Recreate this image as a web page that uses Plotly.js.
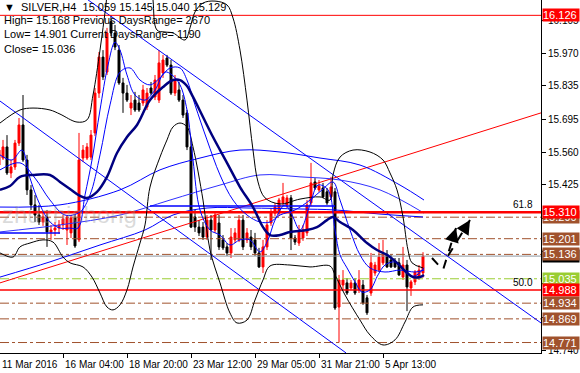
<!DOCTYPE html>
<html><head><meta charset="utf-8">
<script src="https://cdn.plot.ly/plotly-3.0.1.min.js"></script>
<style>html,body{margin:0;padding:0;background:#fff}#chart{width:580px;height:373px}</style>
</head><body><div id="chart"></div>
<script>
// ---- candles (SILVER H4), bar index 0..106 ----
const openP = [15.506,15.535,15.581,15.473,15.498,15.597,15.672,15.527,15.403,15.341,
15.299,15.270,15.291,15.229,15.237,15.245,15.258,15.237,15.225,15.287,
15.196,15.535,15.535,15.539,15.639,15.804,15.953,15.891,16.100,16.053,
15.982,15.846,15.804,15.742,15.775,15.763,15.763,15.746,15.825,15.788,
15.775,15.887,15.949,15.920,15.804,15.817,15.775,15.722,15.581,15.291,
15.249,15.249,15.208,15.278,15.237,15.266,15.196,15.167,15.142,15.196,
15.196,15.278,15.196,15.208,15.196,15.142,15.084,15.167,15.266,15.307,
15.307,15.349,15.341,15.370,15.204,15.183,15.204,15.225,15.349,15.436,
15.403,15.411,15.395,15.374,15.395,14.918,15.009,15.018,14.997,15.018,
14.989,15.009,14.956,14.976,15.059,15.071,15.101,15.134,15.113,15.105,
15.101,15.042,15.092,14.997,15.022,15.042,15.059];
const highP = [15.610,15.610,15.630,15.527,15.610,15.701,15.796,15.548,15.423,15.382,
15.341,15.312,15.320,15.258,15.270,15.278,15.299,15.299,15.299,15.303,
15.639,15.589,15.597,15.651,15.825,15.974,15.982,16.074,16.126,16.086,
16.003,15.867,15.838,15.796,15.809,15.796,15.838,15.825,15.850,15.879,
15.982,15.962,15.962,15.941,15.879,15.850,15.796,15.734,15.610,15.320,
15.278,15.270,15.299,15.299,15.312,15.299,15.216,15.183,15.245,15.245,
15.299,15.299,15.245,15.237,15.225,15.163,15.196,15.278,15.328,15.349,
15.370,15.432,15.382,15.382,15.216,15.258,15.258,15.361,15.515,15.452,
15.444,15.432,15.411,15.457,15.411,15.051,15.071,15.038,15.030,15.038,
15.071,15.030,14.968,15.142,15.105,15.183,15.196,15.154,15.134,15.121,
15.121,15.167,15.113,15.030,15.071,15.092,15.145];
const lowP = [15.494,15.527,15.465,15.452,15.486,15.585,15.519,15.382,15.320,15.270,
15.258,15.254,15.167,15.196,15.212,15.221,15.237,15.175,15.204,15.163,
15.187,15.519,15.527,15.527,15.626,15.784,15.858,15.879,16.040,15.982,
15.838,15.722,15.767,15.713,15.726,15.726,15.751,15.734,15.796,15.775,
15.763,15.867,15.912,15.796,15.792,15.767,15.701,15.568,15.245,15.229,
15.212,15.196,15.196,15.113,15.225,15.154,15.154,15.130,15.121,15.183,
15.187,15.154,15.183,15.154,15.130,15.080,15.059,15.154,15.254,15.295,
15.295,15.336,15.328,15.154,15.175,15.171,15.192,15.212,15.336,15.403,
15.395,15.370,15.341,15.361,14.906,14.771,14.989,14.968,14.989,14.968,
14.976,14.927,14.885,14.964,15.047,15.063,15.092,15.080,15.080,15.080,
15.047,15.030,14.901,14.964,15.009,15.030,15.040];
const closeP = [15.568,15.581,15.473,15.498,15.597,15.672,15.527,15.403,15.341,15.299,
15.270,15.291,15.229,15.237,15.245,15.258,15.283,15.291,15.287,15.171,
15.527,15.568,15.581,15.630,15.804,15.953,15.871,16.053,16.053,15.995,
15.846,15.804,15.775,15.763,15.734,15.734,15.817,15.804,15.804,15.858,
15.929,15.941,15.920,15.804,15.858,15.775,15.713,15.581,15.249,15.249,
15.225,15.208,15.278,15.237,15.299,15.167,15.163,15.142,15.208,15.225,
15.278,15.167,15.225,15.167,15.142,15.084,15.167,15.258,15.307,15.332,
15.361,15.374,15.370,15.204,15.187,15.229,15.237,15.341,15.432,15.411,
15.419,15.374,15.349,15.415,14.914,15.030,15.030,14.976,15.018,14.976,
15.030,14.935,14.894,15.101,15.092,15.125,15.134,15.084,15.084,15.084,
15.051,15.092,15.001,15.022,15.063,15.071,15.129];

// ---- x axis labels (bar index where each date label sits) ----
const tickBars = [0.25,16,32,48,64,80,96];
const tickLabels = ["11 Mar 2016","16 Mar 04:00","18 Mar 20:00","23 Mar 12:00","29 Mar 05:00","31 Mar 21:00","5 Apr 13:00"];
const priceTicks = [16.105,15.970,15.835,15.695,15.560,15.425,15.285,15.150,15.015,14.875,14.740];
const priceTickText = ["16.105","15.970","15.835","15.695","15.560","15.425","","","","","14.740"];

// ---- indicator lines (bar index, price) ----
const bbUpX = [0.25,5.25,8.5,12.75,15.25,19.5,22,23.5,25.25,26.75,28.25,37.75,38.5,39.5,41.5,43.5,46.5,47.75,49,51,54,57,58.5,60.25,62,63.5,64.75,66.5,70.25,75.25,80.25,82.75,83.5,85.25,88.5,92.75,96,97.75,99.5,101,102.25,103.25,106];
const bbUpY = [15.680,15.734,15.742,15.734,15.717,15.684,15.693,15.796,15.982,16.169,16.355,16.355,16.19,16.065,16.057,16.053,16.024,16.074,16.140,16.177,16.185,16.169,16.115,15.982,15.775,15.568,15.436,15.370,15.345,15.365,15.374,15.361,15.465,15.539,15.568,15.560,15.527,15.473,15.403,15.291,15.154,15.101,15.080];
const bbLoX = [0.25,3.5,5.25,7.75,11,13.5,16,17.75,21,23.25,25.25,27,28.5,30.25,32,33.5,35.25,36.5,37.75,40.25,42,43.5,45.25,47,48.5,51,52.75,55.25,57.75,59.5,62,64,66,67.75,72.75,77.75,82.75,84,86.5,90.25,92.75,96,99,101.5,103.5,106];
const bbLoY = [15.142,15.125,15.167,15.183,15.196,15.187,15.125,15.101,15.084,15.042,14.976,14.918,14.906,14.927,14.989,15.084,15.183,15.258,15.415,15.539,15.610,15.664,15.680,15.664,15.581,15.361,15.154,15.018,14.893,14.852,14.864,14.947,15.030,15.088,15.092,15.084,15.088,15.051,14.968,14.864,14.802,14.761,14.782,14.856,14.918,14.927];
const maThickX = [0.25,2.75,5.25,8.5,12.75,15.25,17.75,20.25,22,24.5,27,29.5,32,34.5,37.75,41,43.5,45.25,47,48.5,51,53.5,57,60.25,63.5,66,67.75,70.25,72.75,77,79.5,82,83.5,85.25,88.5,92,94.5,97,99.5,102,103.5,105.25,106.25];
const maThickY = [15.403,15.419,15.457,15.465,15.465,15.436,15.407,15.378,15.370,15.395,15.457,15.556,15.622,15.672,15.775,15.829,15.858,15.858,15.833,15.788,15.705,15.622,15.515,15.415,15.332,15.249,15.216,15.216,15.229,15.237,15.249,15.278,15.291,15.270,15.237,15.183,15.154,15.134,15.101,15.059,15.042,15.042,15.051];
const maFastX = [0.25,3.25,5.75,7.75,10.25,12.75,15.25,17.75,19.75,21.5,23.25,25.25,27.25,29,30.25,32,34,36.5,39,41.5,43.25,45.25,47,48.5,50.25,52.75,55.25,57.75,60.25,62.75,65.25,67.25,69,71.5,73.25,75.25,77.75,79.75,82.25,84,85.25,87,89,90.75,92.75,94.75,96.5,99,101,102.75,104.5,106.25];
const maFastY = [15.548,15.527,15.568,15.452,15.341,15.270,15.245,15.245,15.245,15.382,15.527,15.734,15.920,16.015,15.982,15.879,15.796,15.775,15.817,15.891,15.879,15.838,15.734,15.527,15.320,15.237,15.216,15.175,15.196,15.196,15.146,15.196,15.278,15.341,15.299,15.237,15.341,15.423,15.403,15.237,15.134,15.080,15.022,14.980,14.989,15.051,15.092,15.105,15.080,15.047,15.051,15.080];
const maMidX = [0.25,5.25,9,12.75,16.5,20.25,22.75,25.25,27.75,30.25,32.75,35.25,37.75,40.25,42.75,45.25,47,49,52,55.25,58.5,62,65.25,67.75,70.25,74,77.75,80.75,83.5,85.25,87.75,90.25,92.75,96.5,100.25,104,106.25];
const maMidY = [15.486,15.515,15.452,15.361,15.299,15.312,15.382,15.548,15.755,15.891,15.908,15.858,15.838,15.867,15.908,15.908,15.858,15.755,15.610,15.465,15.361,15.299,15.270,15.270,15.299,15.320,15.361,15.403,15.436,15.361,15.237,15.134,15.080,15.063,15.071,15.063,15.071];
const maSlowAX = [0.25,15.25,30.25,40.25,50.25,60.25,70.25,80.25,90.25,100.25,106.25];
const maSlowAY = [15.332,15.341,15.403,15.486,15.535,15.568,15.560,15.535,15.506,15.423,15.361];
const maSlowBX = [0.25,15.25,30.25,42.75,55.25,65.25,75.25,85.25,95.25,106.25];
const maSlowBY = [15.229,15.258,15.299,15.361,15.423,15.465,15.457,15.444,15.403,15.307];
const maSlowCX = [0.25,12.75,25.25,36.5,43.5,52,62.5,75.25,84,95.25,106];
const maSlowCY = [15.042,15.105,15.175,15.237,15.299,15.328,15.328,15.324,15.320,15.303,15.291];

// ---- drawn objects ----
const channelUpX = [22.25,135.5], channelUpY = [16.19,14.852];
const channelLoX = [0.25,86.75], channelLoY = [15.771,14.728];
const redTrendX = [0.25,135.5], redTrendY = [15.018,15.722];
const blueFlatX = [37.75,84], blueFlatY = [15.336,15.336];
const blueLeftX = [0.25,15.25], blueLeftY = [15.225,15.225];
const redLevels = [16.126,15.310,14.988];
const redWidths = [1,2.5,1.5];
const brownLevels = [15.290,15.201,15.136,14.934,14.869,14.771];
const greenLevel = 15.035;
const bidLevel = 15.129;
const arrow1X = [108.25,111,114.25], arrow1Y = [15.121,15.071,15.245];
const arrow2X = [112.25,117.75], arrow2Y = [15.130,15.278];

// right-side price boxes (drawn in order, later ones on top)
const boxPrices = [16.126,15.290,15.310,15.201,15.129,15.136,15.035,14.988,14.934,14.869,14.771];
const boxColors = ["#ff0000","#a0522d","#ff0000","#a0522d","#000000","#a0522d","#9acd32","#ff0000","#a0522d","#a0522d","#a0522d"];

const X0 = 0.25, X1 = 135.5;
const bars = openP.map((_, i) => i);
const traces = [];
function hline(y, color, width, dash){
  traces.push({x:[X0,X1], y:[y,y], mode:'lines', line:{color:color,width:width,dash:dash||'solid'}, hoverinfo:'skip'});
}
brownLevels.forEach(v => hline(v,'#a0522d',1,'dashdot'));
hline(greenLevel,'#9acd32',1,'dashdot');
hline(bidLevel,'#8c96a0',1);
function line(xs, ys, color, width, shape, dash){
  traces.push({x:xs, y:ys, mode:'lines', line:{color:color,width:width,shape:shape||'linear',dash:dash||'solid'}, hoverinfo:'skip'});
}
line(channelLoX, channelLoY, '#0000ff', 1);
line(channelUpX, channelUpY, '#0000ff', 1);
line(redTrendX, redTrendY, '#ff0000', 1);
line(maSlowAX, maSlowAY, '#0000ff', 1, 'spline');
line(maSlowBX, maSlowBY, '#3030ff', 1, 'spline');
line(maSlowCX, maSlowCY, '#0000ff', 1, 'spline');
line(blueFlatX, blueFlatY, '#0000ff', 1.5);
line(blueLeftX, blueLeftY, '#0000ff', 1.5);
traces.push({type:'candlestick', x:bars, open:openP, high:highP, low:lowP, close:closeP,
  increasing:{line:{color:'#ff0000',width:1}, fillcolor:'#ff0000'},
  decreasing:{line:{color:'#000000',width:1}, fillcolor:'#000000'},
  whiskerwidth:0, hoverinfo:'skip'});
redLevels.forEach((v,k) => hline(v,'#ff0000',redWidths[k]));
line(bbUpX, bbUpY, '#000000', 1, 'spline');
line(bbLoX, bbLoY, '#000000', 1, 'spline');
line(maMidX, maMidY, '#0000ff', 1, 'spline');
line(maFastX, maFastY, '#0000ff', 1, 'spline');
line(maThickX, maThickY, '#000080', 2.5, 'spline');
line(arrow1X, arrow1Y, '#000000', 2, 'linear', 'dash');
line(arrow2X, arrow2Y, '#000000', 2, 'linear', 'dash');

const F = "Liberation Sans, Arial, sans-serif";
const ann = [];
boxPrices.forEach((p,k) => ann.push({xref:'paper', yref:'y', x:1, y:p, xanchor:'left', yanchor:'middle', xshift:1,
  text:p.toFixed(3), showarrow:false, bgcolor:boxColors[k], font:{family:F,size:11,color:'#ffffff'}, width:36, height:12, borderpad:0, align:'left'}));
ann.push({xref:'x', yref:'y', x:131, y:15.310, yanchor:'bottom', text:'61.8', showarrow:false, font:{family:F,size:10,color:'#000'}});
ann.push({xref:'x', yref:'y', x:131, y:14.988, yanchor:'bottom', text:'50.0', showarrow:false, font:{family:F,size:10,color:'#000'}});
// x-axis date labels, written to the right of their tick like the terminal does
tickBars.forEach((b,k) => ann.push({xref:'x', yref:'paper', x:b, y:0, xanchor:'left', yanchor:'top', yshift:-4, xshift:0,
  text:tickLabels[k], showarrow:false, font:{family:F,size:10,color:'#000'}}));
// arrow heads
[[arrow1X,arrow1Y],[arrow2X,arrow2Y]].forEach(([ax,ay]) => {
  const n = ax.length;
  ann.push({xref:'x', yref:'y', axref:'x', ayref:'y', x:ax[n-1], y:ay[n-1], ax:ax[n-1]-(ax[n-1]-ax[n-2])*0.35, ay:ay[n-1]-(ay[n-1]-ay[n-2])*0.35,
    showarrow:true, arrowhead:2, arrowsize:1.4, arrowwidth:2, arrowcolor:'#000', text:''});
});
const txt = {family:F, size:11, color:'#000'};
ann.push({xref:'paper', yref:'paper', x:0, y:1, xanchor:'left', yanchor:'top', xshift:2, yshift:1, showarrow:false, font:txt,
  text:'\u25BC  SILVER,H4  15.059 15.145 15.040 15.129'});
ann.push({xref:'paper', yref:'paper', x:0, y:1, xanchor:'left', yanchor:'top', xshift:2, yshift:-12, showarrow:false, font:txt, align:'left',
  text:'High= 15.168 Previous DaysRange= 2670<br>Low= 14.901 Current DaysRange= 1190<br>Close= 15.036'});
ann.push({xref:'paper', yref:'y', x:0, y:15.30, xanchor:'left', yanchor:'middle', showarrow:false,
  text:'zhuzhichong', font:{family:F, size:24, color:'rgba(150,150,150,0.35)'}});

const layout = {
  width:580, height:373, margin:{l:0,r:39,t:0,b:20},
  paper_bgcolor:'#ffffff', plot_bgcolor:'#ffffff', showlegend:false,
  xaxis:{range:[X0,X1], showgrid:false, zeroline:false, showline:true, linecolor:'#000', linewidth:1,
    ticks:'outside', ticklen:4, tickcolor:'#000', tickvals:tickBars.slice(1), showticklabels:false,
    rangeslider:{visible:false}, fixedrange:true},
  yaxis:{range:[14.7276,16.1895], side:'right', showgrid:false, zeroline:false, showline:true, linecolor:'#000', linewidth:1,
    ticks:'outside', ticklen:4, tickcolor:'#000', tickvals:priceTicks, ticktext:priceTickText,
    tickfont:{family:F,size:10,color:'#000'}, fixedrange:true},
  annotations:ann
};
Plotly.newPlot('chart', traces, layout, {displayModeBar:false, staticPlot:true});
</script></body></html>
